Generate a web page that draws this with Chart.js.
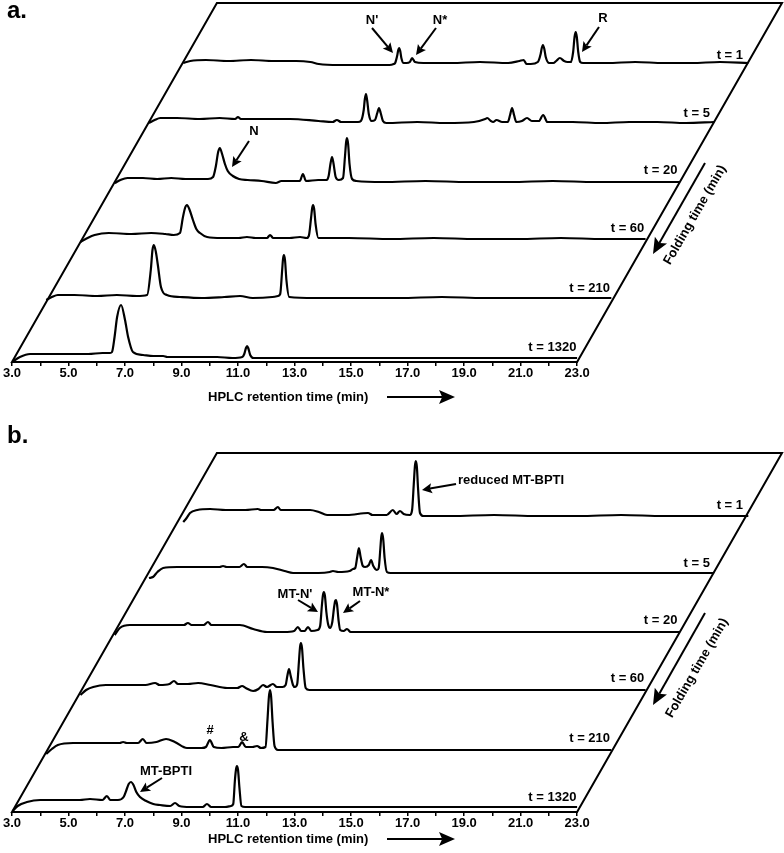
<!DOCTYPE html>
<html>
<head>
<meta charset="utf-8">
<script src="https://cdn.jsdelivr.net/npm/chart.js@4.4.1/dist/chart.umd.min.js"></script>
<style>
  html, body { margin: 0; padding: 0; background: #fff; overflow: hidden; }
  canvas { display: block; }
</style>
</head>
<body>
<canvas id="panelA" width="784" height="410"></canvas>
<canvas id="panelB" width="784" height="443"></canvas>
<script>
// folding time of each chromatogram, top trace first
const foldLabels = ['t = 1', 't = 5', 't = 20', 't = 60', 't = 210', 't = 1320'];
// vertical offset of each trace (signal units), top trace first
const traceLift = [300, 240, 180, 120, 60, 0];
const xTickLabels = ['3.0', '5.0', '7.0', '9.0', '11.0', '13.0', '15.0', '17.0', '19.0', '21.0', '23.0'];

// panel a: [retention time (min), signal]
const aT1 = [[3.0,-1],[3.25,1],[3.8,2],[4.6,1],[5.4,2],[6.2,1],[7.0,1],[7.5,0],[7.8,-2],[8.5,-3],[9.5,-3],[10.3,-3],[10.45,-2],
  [10.5,-1],[10.57,6],[10.61,12],[10.64,14],[10.68,11],[10.72,4],[10.8,-1],[10.9,-1],[11.02,0],[11.1,4],[11.2,0],
  [11.5,-1],[12.5,-1],[13.5,0],[14.5,-1],[14.9,1],[15.05,2],[15.15,-2],[15.3,-2],
  [15.55,0],[15.65,8],[15.69,14],[15.73,17],[15.78,13],[15.83,5],[15.95,-1],[16.1,-1],[16.2,1],[16.33,4],[16.48,1],[16.6,0],
  [16.72,0],[16.8,10],[16.85,25],[16.89,30],[16.93,25],[16.98,10],[17.05,0],[17.15,-1],
  [18,-1],[19,0],[20,-1],[21,-1],[22,0],[23,-1]];
const aT5 = [[3.0,-1],[3.2,2],[3.4,4],[4.0,4],[4.8,3],[5.5,4],[6.05,3],[6.15,5],[6.25,3],[7.0,3],[8.0,3],[9.0,1],[9.5,0],[9.65,2],[9.8,0],[10.4,0],
  [10.5,1],[10.6,12],[10.64,23],[10.68,28],[10.72,22],[10.78,8],[10.88,1],
  [11.0,2],[11.08,9],[11.14,14],[11.2,9],[11.28,1],[11.4,-1],
  [12.5,0],[13.5,-1],[14.5,0],[14.9,3],[14.97,4],[15.1,1],[15.18,0],[15.3,2],[15.5,0],
  [15.7,0],[15.78,7],[15.85,14],[15.92,7],[16.0,0],[16.2,1],[16.38,4],[16.55,1],[16.8,1],[16.95,7],[17.1,0],
  [18,0],[19,-1],[20,0],[21,0],[22,-1],[23,0]];
const aT20 = [[3.0,-1],[3.2,2],[3.45,4],[4.0,4],[4.5,3],[5.0,4],[5.5,3],[6.0,3],[6.3,3],[6.48,5],
  [6.58,16],[6.66,30],[6.72,34],[6.8,28],[6.9,18],[7.0,11],[7.18,6],[7.4,3],[7.7,2],
  [8.2,1],[8.7,-1],[8.9,1],[9.4,1],[9.55,1],[9.66,8],[9.77,1],[10.2,2],[10.5,2],
  [10.57,6],[10.64,19],[10.69,25],[10.74,19],[10.82,5],[10.93,2],
  [11.08,4],[11.15,26],[11.19,40],[11.22,44],[11.26,38],[11.31,18],[11.4,3],[11.55,1],
  [12.5,0],[14,1],[15.5,0],[17,0],[18.5,1],[20,0],[21.5,0],[23,0]];
const aT60 = [[3.0,0],[3.25,4],[3.5,7],[4.0,9],[4.8,8],[5.5,9],[6.0,8],[6.3,7],[6.52,9],
  [6.62,24],[6.7,34],[6.77,37],[6.85,33],[6.98,22],[7.1,13],[7.23,9],[7.48,5],
  [8.0,4],[8.6,4],[8.89,5],[9.2,4],[9.6,4],[9.71,7],[9.82,4],[10.4,4],[10.77,5],[11.0,4],
  [11.08,6],[11.16,24],[11.2,34],[11.23,37],[11.27,33],[11.32,18],[11.42,4],
  [12.5,4],[14,3],[15.5,4],[17,3],[18.5,3],[20,4],[21.5,3],[23,3]];
const aT210 = [[3.0,2],[3.2,5],[3.41,7],[4.0,7],[4.8,6],[5.5,7],[6.2,6],[6.57,7],
  [6.7,32],[6.76,52],[6.81,57],[6.88,50],[6.95,37],[7.06,15],[7.27,7],[7.73,5],
  [8.5,4],[9.3,5],[9.86,6],[10.3,4],[11.0,5],[11.2,6],
  [11.28,8],[11.35,32],[11.38,43],[11.41,47],[11.45,42],[11.5,22],[11.6,5],
  [12.5,4],[14,4],[15.5,4],[17,5],[18.5,4],[20,4],[21.5,4],[23,4]];
const aT1320 = [[3.0,0],[3.28,5],[3.64,8],[4.3,8],[5.0,8],[5.7,8],[6.2,9],[6.47,9],
  [6.54,10],[6.63,25],[6.72,45],[6.86,57],[7.0,42],[7.11,25],[7.28,10],[7.64,7],
  [8.0,6],[8.35,6],[8.5,5],[9.4,5],[10.26,5],[10.8,4],[11.15,5],
  [11.22,8],[11.28,14],[11.32,16],[11.36,14],[11.43,7],[11.55,4],
  [12.5,4],[14,4],[15.5,4],[17,4],[18.5,4],[20,4],[21.5,4],[23,4]];

// panel b: [retention time (min), signal]
const bT1 = [[3.0,-10],[3.12,-6],[3.24,-1],[3.5,2],[3.95,3],[4.5,2],[5.2,2],[5.64,3],[5.75,2],[6.2,2],[6.35,5],[6.45,2],
  [7.0,2],[7.49,2],[7.8,0],[8.09,-3],[8.8,-3],[9.54,-1],[9.7,-3],[10.2,-3],[10.42,2],[10.55,-2],[10.67,1],[10.8,-2],[11.02,-3],
  [11.1,2],[11.16,28],[11.2,46],[11.23,51],[11.27,45],[11.31,24],[11.38,-1],[11.5,-4],
  [12.5,-4],[14,-3],[15.5,-4],[17,-4],[18.5,-3],[20,-4],[21.5,-4],[23,-4]];
const bT5 = [[3.0,-6],[3.14,-5],[3.3,0],[3.5,4],[4.0,5],[4.8,5],[5.5,5],[5.62,6],[5.75,5],[6.2,5],[6.36,8],[6.48,5],
  [7.0,5],[7.39,4],[7.8,1],[8.1,-1],[9.0,-1],[9.4,0],[9.51,1],[9.7,0],[10.1,1],[10.22,3],
  [10.3,4],[10.37,15],[10.43,24],[10.49,15],[10.57,6],[10.65,5],
  [10.78,7],[10.86,12],[10.94,6],[11.07,2],
  [11.13,4],[11.19,24],[11.22,35],[11.25,39],[11.29,33],[11.34,14],[11.42,0],[11.55,-1],
  [12.5,-1],[14,-1],[15.5,-1],[17,-1],[18.5,-1],[20,-1],[21.5,-1],[23,-1]];
const bT20 = [[3.0,-3],[3.18,4],[3.54,7],[4.2,7],[4.9,7],[5.45,7],[5.59,9],[5.72,7],[6.15,7],[6.3,10],[6.42,7],
  [7.0,7],[7.43,7],[7.9,3],[8.39,0],[9.0,0],[9.35,1],[9.48,5],[9.6,1],[9.72,1],[9.84,5],[9.96,1],[10.18,2],
  [10.27,6],[10.33,26],[10.37,37],[10.40,40],[10.44,36],[10.49,20],[10.55,8],[10.62,4],
  [10.7,10],[10.76,24],[10.8,31],[10.83,32],[10.87,27],[10.92,12],[10.98,2],
  [11.1,1],[11.22,3],[11.35,0],[12.5,0],[14,0],[15.5,0],[17,0],[18.5,0],[20,0],[21.5,0],[23,0]];
const bT60 = [[3.0,-3],[3.2,2],[3.45,5],[3.9,7],[4.6,7],[5.3,7],[5.64,9],[5.8,7],[6.15,8],[6.31,11],[6.45,8],
  [6.8,8],[7.16,9],[7.6,7],[8.19,4],[8.55,4],[8.72,6],[8.85,4],[9.11,1],[9.3,3],[9.46,7],[9.6,5],[9.81,8],[9.95,5],[10.15,5],
  [10.26,7],[10.32,16],[10.38,23],[10.44,16],[10.52,7],[10.59,5],
  [10.67,8],[10.73,30],[10.77,45],[10.80,49],[10.84,44],[10.89,24],[10.97,4],[11.1,2],
  [12.5,2],[14,2],[15.5,2],[17,2],[18.5,2],[20,2],[21.5,2],[23,2]];
const bT210 = [[3.0,-2],[3.2,3],[3.41,7],[3.95,9],[4.6,9],[5.2,9],[5.6,9],[5.72,10],[5.85,9],[6.25,9],[6.42,13],[6.55,9],
  [6.9,10],[7.24,13],[7.55,10],[7.98,4],[8.5,4],[8.65,5],[8.79,12],[8.93,5],[9.2,4],[9.61,5],[9.8,5],[9.93,10],[10.06,5],
  [10.3,5],[10.46,6],[10.6,4],
  [10.76,5],[10.83,32],[10.88,55],[10.92,62],[10.96,55],[11.01,30],[11.08,6],[11.2,2],
  [12.5,2],[14,2],[15.5,2],[17,2],[18.5,2],[20,2],[21.5,2],[23,2]];
const bT1320 = [[3.0,0],[3.2,6],[3.53,10],[4.0,12],[4.7,12],[5.4,12],[5.76,13],[6.2,12],[6.36,16],[6.48,12],[6.75,12],
  [6.95,15],[7.05,22],[7.13,28],[7.21,30],[7.3,27],[7.4,20],[7.53,15],[7.75,11],[8.0,8],[8.24,7],[8.6,6],[8.77,9],[8.92,6],
  [9.3,5],[9.75,5],[9.9,8],[10.05,5],[10.54,5],[10.75,6],
  [10.83,8],[10.89,32],[10.93,43],[10.96,46],[11.0,42],[11.05,24],[11.12,6],[11.25,5],
  [12.5,5],[14,5],[15.5,5],[17,5],[18.5,5],[20,5],[21.5,5],[23,5]];

const FONT = '"Liberation Sans", Arial, Helvetica, sans-serif';
const FRAME_H = 359;        // height of the slanted frame, signal units (1 unit = 1 px)
const SLANT = 0.0202;       // retention-time shift per signal unit
const RT_MIN = 3, RT_MAX = 23;
const labelRise = [3, 5, 8, 10, 10, 11];

function arrow(ctx, x1, y1, x2, y2, len, half) {
  const a = Math.atan2(y2 - y1, x2 - x1);
  const c = Math.cos(a), s = Math.sin(a);
  const bx = x2 - len * c, by = y2 - len * s;
  const nx = x2 - len * 0.8 * c, ny = y2 - len * 0.8 * s;
  ctx.beginPath();
  ctx.moveTo(x1, y1);
  ctx.lineTo(nx, ny);
  ctx.stroke();
  ctx.beginPath();
  ctx.moveTo(x2, y2);
  ctx.lineTo(bx + half * s, by - half * c);
  ctx.lineTo(nx, ny);
  ctx.lineTo(bx - half * s, by + half * c);
  ctx.closePath();
  ctx.fill();
}

function makeFrame(panel) {
  return {
    id: 'frame',
    afterDraw(chart) {
      const { ctx, scales: { x, y } } = chart;
      const px = (rt, v) => x.getPixelForValue(rt + v * SLANT);
      ctx.save();
      ctx.strokeStyle = '#000';
      ctx.fillStyle = '#000';
      ctx.lineWidth = 2;
      ctx.lineJoin = 'miter';

      // slanted frame; its bottom edge is the retention time axis
      ctx.beginPath();
      ctx.moveTo(px(RT_MIN, 0), y.getPixelForValue(0));
      ctx.lineTo(px(RT_MAX, 0), y.getPixelForValue(0));
      ctx.lineTo(px(RT_MAX, FRAME_H), y.getPixelForValue(FRAME_H));
      ctx.lineTo(px(RT_MIN, FRAME_H), y.getPixelForValue(FRAME_H));
      ctx.closePath();
      ctx.stroke();

      // folding time labels at the right end of each trace
      ctx.font = 'bold 13px ' + FONT;
      ctx.textAlign = 'right';
      ctx.textBaseline = 'alphabetic';
      foldLabels.forEach((lab, k) => {
        const v = traceLift[k] + labelRise[k];
        ctx.fillText(lab, px(RT_MAX, v) - 7, y.getPixelForValue(v));
      });

      // peak annotations
      ctx.textBaseline = 'middle';
      panel.notes.forEach(n => {
        ctx.textAlign = n.align || 'center';
        ctx.fillText(n.text, n.x, n.y);
        if (n.arrow) {
          arrow(ctx, n.arrow[0], n.arrow[1], n.arrow[2], n.arrow[3], 10, 5);
        }
      });

      // axis title with arrow
      ctx.textAlign = 'left';
      ctx.fillText('HPLC retention time (min)', 208, panel.titleY);
      arrow(ctx, 387, panel.titleY, 455, panel.titleY, 16, 7);

      // folding time axis along the right side
      const f = panel.fold;
      arrow(ctx, f.ax1, f.ay1, f.ax2, f.ay2, 16, 7);
      ctx.save();
      ctx.translate(f.tx, f.ty);
      ctx.rotate(-Math.PI / 3);
      ctx.textAlign = 'center';
      ctx.fillText('Folding time (min)', 0, 0);
      ctx.restore();

      // panel letter
      ctx.font = 'bold 24px ' + FONT;
      ctx.textAlign = 'left';
      ctx.textBaseline = 'alphabetic';
      ctx.fillText(panel.letter, 7, panel.letterY);
      ctx.restore();
    }
  };
}

function buildChart(panel) {
  const datasets = panel.traces.map((tr, k) => ({
    data: tr.map(([rt, s]) => ({ x: rt + traceLift[k] * SLANT, y: s + traceLift[k] })),
    borderColor: '#000',
    borderWidth: 2.2,
    pointRadius: 0,
    fill: false,
    cubicInterpolationMode: 'monotone',
  }));
  const canvas = document.getElementById(panel.id);
  new Chart(canvas.getContext('2d'), {
    type: 'line',
    data: { datasets },
    options: {
      responsive: false,
      animation: false,
      events: [],
      layout: { padding: { top: panel.top, left: 12, right: 2, bottom: 0 } },
      plugins: { legend: { display: false }, tooltip: { enabled: false } },
      scales: {
        x: {
          type: 'linear',
          min: RT_MIN,
          max: RT_MAX + FRAME_H * SLANT,
          border: { display: false },
          grid: {
            drawOnChartArea: false,
            drawTicks: true,
            tickLength: 4,
            lineWidth: 1.5,
            color: (c) => (c.tick && c.tick.value <= RT_MAX ? '#000' : 'rgba(0,0,0,0)'),
          },
          ticks: {
            stepSize: 1,
            autoSkip: false,
            maxRotation: 0,
            includeBounds: false,
            padding: 0,
            color: '#000',
            font: { family: FONT, size: 13, weight: 'bold' },
            callback: function (value) {
              const i = (value - RT_MIN) / 2;
              return Number.isInteger(i) && i < xTickLabels.length ? xTickLabels[i] : '';
            },
          },
          afterFit: (scale) => { scale.height = canvas.height - panel.top - FRAME_H; },
        },
        y: { display: false, min: 0, max: FRAME_H },
      },
    },
    plugins: [makeFrame(panel)],
  });
}

buildChart({
  id: 'panelA', top: 3, letter: 'a.', letterY: 18, titleY: 397,
  traces: [aT1, aT5, aT20, aT60, aT210, aT1320],
  fold: { ax1: 705, ay1: 163, ax2: 653, ay2: 254, tx: 695, ty: 215 },
  notes: [
    { text: "N'", x: 372, y: 20, arrow: [372, 28, 393, 53] },
    { text: 'N*', x: 440, y: 20, arrow: [436, 28, 416, 55] },
    { text: 'R', x: 603, y: 18, arrow: [599, 27, 582, 52] },
    { text: 'N', x: 254, y: 131, arrow: [249, 141, 232, 167] },
  ],
});

buildChart({
  id: 'panelB', top: 43, letter: 'b.', letterY: 33, titleY: 429,
  traces: [bT1, bT5, bT20, bT60, bT210, bT1320],
  fold: { ax1: 705, ay1: 203, ax2: 653, ay2: 295, tx: 697, ty: 258 },
  notes: [
    { text: 'reduced MT-BPTI', x: 458, y: 70, align: 'left', arrow: [456, 74, 422, 80] },
    { text: "MT-N'", x: 295, y: 184, arrow: [298, 190, 318, 202] },
    { text: 'MT-N*', x: 371, y: 182, arrow: [360, 191, 343, 203] },
    { text: '#', x: 210, y: 320 },
    { text: '&', x: 244, y: 327 },
    { text: 'MT-BPTI', x: 166, y: 361, arrow: [162, 368, 140, 382] },
  ],
});
</script>
</body>
</html>
